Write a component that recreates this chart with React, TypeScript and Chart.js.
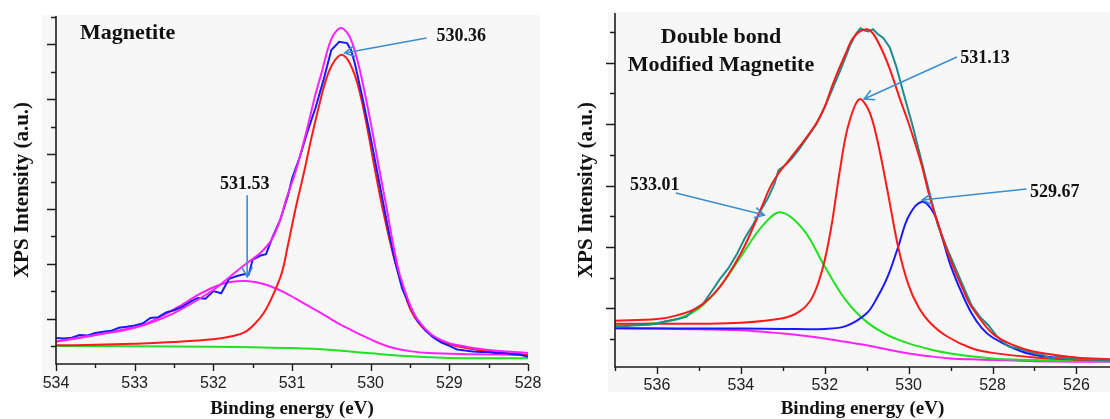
import React, { useEffect, useRef } from "react";
import { Chart, registerables } from "chart.js";

Chart.register(...registerables);

// ================= LEFT PANEL : Magnetite =================
const L_GREEN_E = [534, 533, 532, 531.5, 531, 530.5, 530, 529.5, 529, 528.5, 528];
const L_GREEN_I = [0, -0.01, -0.03, -0.05, -0.08, -0.15, -0.27, -0.38, -0.44, -0.45, -0.45];

const L_RED_E = [534, 533.5, 533, 532.5, 532, 531.75, 531.6, 531.48, 531.36, 531.25, 531.13, 531.05, 530.95, 530.85, 530.76, 530.67, 530.58, 530.49, 530.38, 530.29, 530.17, 530.06, 529.95, 529.84, 529.72, 529.6, 529.49, 529.38, 529.26, 529.15, 529.04, 528.8, 528.5, 528];
const L_RED_I = [0.02, 0.04, 0.08, 0.14, 0.24, 0.36, 0.5, 0.78, 1.2, 1.8, 2.66, 3.7, 5.07, 6.3, 7.5, 8.6, 9.6, 10.26, 10.62, 10.44, 9.6, 8.2, 6.5, 4.9, 3.4, 2.2, 1.3, 0.8, 0.47, 0.25, 0.1, -0.07, -0.2, -0.33];

const L_COMP_E = [534, 533.5, 532.9, 532.44, 532.2, 531.99, 531.8, 531.58, 531.35, 531.08, 530.85, 530.63, 530.4, 530.17, 529.95, 529.72, 529.5, 529.26, 528.8, 528];
const L_COMP_I = [0.15, 0.4, 0.77, 1.43, 1.85, 2.15, 2.32, 2.37, 2.25, 1.93, 1.55, 1.2, 0.8, 0.47, 0.17, -0.07, -0.19, -0.26, -0.3, -0.33];

const L_ENV_E = [534, 533.5, 533, 532.5, 532, 531.8, 531.6, 531.4, 531.26, 531.15, 531.08, 530.95, 530.81, 530.7, 530.63, 530.5, 530.38, 530.27, 530.17, 530.08, 529.99, 529.9, 529.8, 529.7, 529.63, 529.5, 529.4, 529.22, 529, 528.8, 528.5, 528];
const L_ENV_I = [0.17, 0.4, 0.66, 1.2, 2.04, 2.5, 2.96, 3.4, 3.87, 4.6, 5.3, 6.4, 7.9, 9.2, 9.9, 11.2, 11.6, 11.3, 10.44, 9.3, 8.0, 6.6, 5.07, 3.5, 2.6, 1.5, 0.95, 0.4, 0.1, -0.02, -0.15, -0.26];

const L_RAW_E = [534, 533.9, 533.8, 533.7, 533.6, 533.5, 533.4, 533.3, 533.2, 533.1, 533.0, 532.9, 532.8, 532.7, 532.6, 532.5, 532.4, 532.3, 532.2, 532.1, 532.0, 531.9, 531.8, 531.7, 531.6, 531.55, 531.5, 531.4, 531.33, 531.25, 531.15, 531.05, 531.0, 530.9, 530.8, 530.7, 530.6, 530.5, 530.4, 530.3, 530.25, 530.2, 530.1, 530.0, 529.9, 529.8, 529.7, 529.6, 529.5, 529.4, 529.3, 529.2, 529.1, 529.0, 528.9, 528.8, 528.7, 528.6, 528.5, 528.4, 528.3, 528.2, 528.1, 528.0];
const L_RAW_I = [0.29, 0.27, 0.3, 0.4, 0.38, 0.47, 0.52, 0.55, 0.66, 0.7, 0.75, 0.82, 1.02, 1.05, 1.22, 1.3, 1.42, 1.6, 1.75, 1.72, 2.0, 1.92, 2.45, 2.55, 2.62, 2.6, 3.15, 3.3, 3.35, 3.95, 4.6, 5.5, 6.1, 6.9, 7.85, 8.7, 9.7, 10.8, 11.1, 11.05, 10.8, 10.3, 9.0, 7.6, 6.1, 4.6, 3.2, 2.1, 1.45, 0.9, 0.55, 0.3, 0.12, 0.0, -0.13, -0.17, -0.2, -0.22, -0.22, -0.27, -0.25, -0.3, -0.32, -0.4];

const L_X_MAJOR = [534, 533, 532, 531, 530, 529, 528];
const L_X_MINOR = [533.5, 532.5, 531.5, 530.5, 529.5, 528.5];
const L_Y_MAJOR = [1, 3, 5, 7, 9, 11];
const L_Y_MINOR = [0, 2, 4, 6, 8, 10, 12];

const L_ARROWS = [
  { label: "530.36", tx: 528.85, ty: 11.31, x1: 529.29, y1: 11.24, x2: 530.33, y2: 10.69 },
  { label: "531.53", tx: 531.6, ty: 5.88, x1: 531.57, y1: 5.5, x2: 531.57, y2: 2.52 },
];

// ================= RIGHT PANEL : Double bond Modified Magnetite =================
const R_BASE_E = [537, 536, 535, 534, 533, 532.5, 532, 531.5, 531, 530.5, 530, 529.5, 529, 528.5, 528, 527, 526, 525.2];
const R_BASE_I = [0.35, 0.34, 0.32, 0.29, 0.18, 0.11, 0.02, -0.09, -0.2, -0.34, -0.47, -0.56, -0.63, -0.66, -0.68, -0.72, -0.74, -0.74];

const R_GREEN_E = [537, 536.5, 536, 535.5, 535, 534.5, 534, 533.5, 533.06, 532.5, 532, 531.5, 531, 530.5, 530, 529.5, 529, 528, 527, 526, 525.2];
const R_GREEN_I = [0.45, 0.48, 0.52, 0.66, 1.0, 1.7, 2.68, 3.66, 4.13, 3.55, 2.36, 1.27, 0.56, 0.13, -0.14, -0.33, -0.47, -0.63, -0.68, -0.71, -0.72];

const R_RED_E = [537, 536, 535, 534, 533, 532.6, 532.3, 532.05, 531.85, 531.65, 531.45, 531.18, 530.95, 530.75, 530.5, 530.25, 530.0, 529.75, 529.5, 529.1, 528.5, 528, 527, 526, 525.2];
const R_RED_I = [0.5, 0.5, 0.5, 0.53, 0.68, 0.9, 1.35, 2.3, 3.6, 5.4, 6.9, 7.81, 7.45, 6.5, 4.8, 3.0, 1.75, 1.0, 0.55, 0.1, -0.3, -0.45, -0.6, -0.67, -0.7];

const R_BLUE_E = [537, 534, 533, 532, 531.5, 531, 530.75, 530.5, 530.25, 530, 529.68, 529.4, 529.2, 529, 528.75, 528.5, 528.25, 528, 527.5, 527, 526, 525.2];
const R_BLUE_I = [0.35, 0.34, 0.33, 0.33, 0.42, 0.84, 1.35, 2.03, 3.0, 4.0, 4.47, 4.1, 3.3, 2.4, 1.55, 0.84, 0.35, 0.05, -0.3, -0.52, -0.66, -0.68];

const R_ENV_E = [537, 536, 535.5, 535, 534.5, 534, 533.7, 533.5, 533.3, 533.1, 532.9, 532.7, 532.5, 532.2, 532, 531.8, 531.5, 531.3, 531.0, 530.8, 530.5, 530.2, 530, 529.7, 529.5, 529.2, 529, 528.7, 528.5, 528, 527.5, 527, 526, 525.2];
const R_ENV_I = [0.6, 0.65, 0.78, 1.05, 1.7, 2.79, 3.66, 4.31, 4.95, 5.4, 5.75, 6.1, 6.45, 7.03, 7.57, 8.33, 9.3, 9.85, 10.09, 9.85, 8.98, 7.79, 7.03, 5.72, 4.64, 3.33, 2.57, 1.6, 1.05, 0.18, -0.2, -0.41, -0.6, -0.66];

const R_RAW_E = [537, 536.8, 536.5, 536.2, 536, 535.8, 535.5, 535.3, 535.1, 534.9, 534.7, 534.5, 534.3, 534.1, 533.9, 533.7, 533.5, 533.35, 533.2, 533.1, 533.0, 532.9, 532.8, 532.6, 532.4, 532.2, 532.0, 531.8, 531.6, 531.4, 531.25, 531.15, 531.05, 530.95, 530.85, 530.75, 530.6, 530.45, 530.3, 530.1, 529.9, 529.7, 529.5, 529.3, 529.1, 528.9, 528.7, 528.5, 528.3, 528.1, 527.9, 527.75, 527.6, 527.4, 527.2, 527.0, 526.8, 526.6, 526.45, 526.3, 526.0, 525.6, 525.2];
const R_RAW_I = [0.4, 0.42, 0.45, 0.47, 0.5, 0.58, 0.65, 0.72, 0.98, 1.15, 1.55, 1.95, 2.3, 2.75, 3.3, 3.75, 4.25, 4.6, 5.05, 5.5, 5.6, 5.72, 5.85, 6.2, 6.6, 7.0, 7.55, 8.2, 8.85, 9.55, 9.95, 10.12, 10.05, 10.02, 10.09, 9.95, 9.8, 9.5, 8.9, 7.9, 6.92, 5.83, 4.74, 3.7, 3.0, 2.36, 1.72, 1.1, 0.72, 0.45, 0.1, -0.1, -0.25, -0.3, -0.38, -0.47, -0.52, -0.63, -0.58, -0.62, -0.66, -0.67, -0.68];

const R_X_MAJOR = [536, 534, 532, 530, 528, 526];
const R_X_MINOR = [537, 535, 533, 531, 529, 527];
const R_Y_MAJOR = [1, 3, 5, 7, 9];
const R_Y_MINOR = [0, 2, 4, 6, 8, 10];

const R_ARROWS = [
  { label: "531.13", tx: 528.18, ty: 9.15, x1: 528.85, y1: 9.19, x2: 531.06, y2: 7.82 },
  { label: "533.01", tx: 536.05, ty: 5.02, x1: 535.55, y1: 4.76, x2: 533.44, y2: 4.04 },
  { label: "529.67", tx: 526.52, ty: 4.79, x1: 527.19, y1: 4.89, x2: 529.68, y2: 4.53 },
];

// ================= styling =================
const SERIF = '"Liberation Serif", "Times New Roman", Times, serif';
const SANS = '"Liberation Sans", Arial, Helvetica, sans-serif';
const C_BLUE = "#1a1aff";
const C_RED = "#ff1a1a";
const C_MAG = "#ff22ff";
const C_GREEN = "#22e022";
const C_TEAL = "#1e8c8c";
const C_ARROW = "#3b8ed0";

type Arrow = { label: string; tx: number; ty: number; x1: number; y1: number; x2: number; y2: number };
type TitleLine = { text: string; dx: number; dy: number; align: CanvasTextAlign };

const pts = (e: number[], v: number[]) => e.map((x, i) => ({ x, y: v[i] }));

function line(data: { x: number; y: number }[], color: string, smooth: boolean) {
  return {
    data,
    borderColor: color,
    backgroundColor: color,
    borderWidth: 2,
    pointRadius: 0,
    fill: false,
    tension: smooth ? 0.35 : 0,
  };
}

function decorPlugin(o: {
  bg: [number, number, number, number];
  xMajor: number[];
  xMinor: number[];
  yMajor: number[];
  yMinor: number[];
  titles: TitleLine[];
  arrows: Arrow[];
}) {
  return {
    id: "decor",
    beforeDraw(chart: any) {
      const { ctx, chartArea: a } = chart;
      ctx.save();
      ctx.fillStyle = "#f7f7f7";
      const l = a.left + o.bg[0];
      const t = a.top + o.bg[1];
      ctx.fillRect(l, t, a.right + o.bg[2] - l, a.bottom + o.bg[3] - t);
      ctx.restore();
    },
    afterDraw(chart: any) {
      const { ctx, chartArea: a, scales } = chart;
      const xs = scales.x;
      const ys = scales.y;
      ctx.save();
      ctx.strokeStyle = "#1c1c1c";
      ctx.lineWidth = 1.6;
      ctx.beginPath();
      ctx.moveTo(a.left, a.top);
      ctx.lineTo(a.left, a.bottom);
      ctx.lineTo(a.right, a.bottom);
      ctx.stroke();
      ctx.lineWidth = 1.4;
      ctx.beginPath();
      const xt = (vals: number[], len: number) =>
        vals.forEach((v) => {
          const p = Math.round(xs.getPixelForValue(v)) + 0.5;
          ctx.moveTo(p, a.bottom);
          ctx.lineTo(p, a.bottom + len);
        });
      const yt = (vals: number[], len: number) =>
        vals.forEach((v) => {
          const p = Math.round(ys.getPixelForValue(v)) + 0.5;
          ctx.moveTo(a.left, p);
          ctx.lineTo(a.left - len, p);
        });
      xt(o.xMajor, 7);
      xt(o.xMinor, 4);
      yt(o.yMajor, 9);
      yt(o.yMinor, 5);
      ctx.stroke();

      // panel titles
      ctx.fillStyle = "#111";
      ctx.font = `bold 22px ${SERIF}`;
      ctx.textBaseline = "alphabetic";
      o.titles.forEach((t) => {
        ctx.textAlign = t.align;
        ctx.fillText(t.text, a.left + t.dx, a.top + t.dy);
      });

      // annotations
      o.arrows.forEach((ar) => {
        const x1 = xs.getPixelForValue(ar.x1);
        const y1 = ys.getPixelForValue(ar.y1);
        const x2 = xs.getPixelForValue(ar.x2);
        const y2 = ys.getPixelForValue(ar.y2);
        ctx.strokeStyle = C_ARROW;
        ctx.lineWidth = 1.6;
        ctx.beginPath();
        ctx.moveTo(x1, y1);
        ctx.lineTo(x2, y2);
        const ang = Math.atan2(y1 - y2, x1 - x2);
        const hl = 11;
        const spread = 0.5;
        ctx.moveTo(x2 + hl * Math.cos(ang + spread), y2 + hl * Math.sin(ang + spread));
        ctx.lineTo(x2, y2);
        ctx.lineTo(x2 + hl * Math.cos(ang - spread), y2 + hl * Math.sin(ang - spread));
        ctx.stroke();
        ctx.fillStyle = "#111";
        ctx.font = `bold 18px ${SERIF}`;
        ctx.textAlign = "center";
        ctx.textBaseline = "middle";
        ctx.fillText(ar.label, xs.getPixelForValue(ar.tx), ys.getPixelForValue(ar.ty));
      });
      ctx.restore();
    },
  };
}

function makeConfig(p: {
  datasets: any[];
  xMin: number;
  xMax: number;
  yMin: number;
  yMax: number;
  xMajor: number[];
  xMinor: number[];
  yMajor: number[];
  yMinor: number[];
  padTop: number;
  padRight: number;
  yWidth: number;
  xHeight: number;
  yTitlePad: number;
  tickPad: number;
  bg: [number, number, number, number];
  titles: TitleLine[];
  arrows: Arrow[];
}) {
  return {
    type: "line",
    data: { datasets: p.datasets },
    options: {
      animation: false,
      responsive: false,
      maintainAspectRatio: false,
      events: [],
      layout: { padding: { top: p.padTop, right: p.padRight, left: 0, bottom: 0 } },
      plugins: { legend: { display: false }, tooltip: { enabled: false } },
      scales: {
        x: {
          type: "linear",
          reverse: true,
          min: p.xMin,
          max: p.xMax,
          grid: { display: false, drawTicks: false },
          border: { display: false },
          afterBuildTicks: (s: any) => {
            s.ticks = p.xMajor.map((v) => ({ value: v }));
          },
          afterFit: (s: any) => {
            s.height = p.xHeight;
          },
          ticks: {
            autoSkip: false,
            maxRotation: 0,
            padding: p.tickPad,
            color: "#222",
            font: { family: SANS, size: 16 },
            callback: (v: any) => String(v),
          },
          title: {
            display: true,
            text: "Binding energy (eV)",
            color: "#111",
            padding: 0,
            font: { family: SERIF, size: 19, weight: "bold", lineHeight: 1 },
          },
        },
        y: {
          type: "linear",
          min: p.yMin,
          max: p.yMax,
          grid: { display: false, drawTicks: false },
          border: { display: false },
          ticks: { display: false },
          afterFit: (s: any) => {
            s.width = p.yWidth;
          },
          title: {
            display: true,
            text: "XPS Intensity (a.u.)",
            color: "#111",
            padding: { top: p.yTitlePad, bottom: 0 },
            font: { family: SERIF, size: 21, weight: "bold", lineHeight: 1.2 },
          },
        },
      },
    },
    plugins: [
      decorPlugin({
        bg: p.bg,
        xMajor: p.xMajor,
        xMinor: p.xMinor,
        yMajor: p.yMajor,
        yMinor: p.yMinor,
        titles: p.titles,
        arrows: p.arrows,
      }),
    ],
  };
}

const leftConfig = () =>
  makeConfig({
    datasets: [
      line(pts(L_ENV_E, L_ENV_I), C_MAG, true),
      line(pts(L_RAW_E, L_RAW_I), C_BLUE, false),
      line(pts(L_RED_E, L_RED_I), C_RED, true),
      line(pts(L_COMP_E, L_COMP_I), C_MAG, true),
      line(pts(L_GREEN_E, L_GREEN_I), C_GREEN, true),
    ],
    xMin: 528,
    xMax: 534,
    yMin: -0.66,
    yMax: 12.04,
    xMajor: L_X_MAJOR,
    xMinor: L_X_MINOR,
    yMajor: L_Y_MAJOR,
    yMinor: L_Y_MINOR,
    padTop: 16,
    padRight: 27,
    yWidth: 56,
    xHeight: 55,
    yTitlePad: 9.5,
    tickPad: 10,
    bg: [-14, -1, 12, 28],
    titles: [{ text: "Magnetite", dx: 24, dy: 23, align: "left" }],
    arrows: L_ARROWS,
  });

const rightConfig = () =>
  makeConfig({
    datasets: [
      line(pts(R_ENV_E, R_ENV_I), C_RED, true),
      line(pts(R_RAW_E, R_RAW_I), C_TEAL, false),
      line(pts(R_RED_E, R_RED_I), C_RED, true),
      line(pts(R_BLUE_E, R_BLUE_I), C_BLUE, true),
      line(pts(R_GREEN_E, R_GREEN_I), C_GREEN, true),
      line(pts(R_BASE_E, R_BASE_I), C_MAG, true),
    ],
    xMin: 525.2,
    xMax: 537,
    yMin: -0.91,
    yMax: 10.62,
    xMajor: R_X_MAJOR,
    xMinor: R_X_MINOR,
    yMajor: R_Y_MAJOR,
    yMinor: R_Y_MINOR,
    padTop: 13,
    padRight: 0,
    yWidth: 60,
    xHeight: 52,
    yTitlePad: 18.5,
    tickPad: 9,
    bg: [-7, -1, 0, 25],
    titles: [
      { text: "Double bond", dx: 106, dy: 30, align: "center" },
      { text: "Modified Magnetite", dx: 106, dy: 58, align: "center" },
    ],
    arrows: R_ARROWS,
  });

function Panel({ make, left }: { make: () => any; left: number }) {
  const ref = useRef<HTMLCanvasElement>(null);
  useEffect(() => {
    const chart = new Chart(ref.current as HTMLCanvasElement, make());
    return () => chart.destroy();
  }, [make]);
  return (
    <canvas
      ref={ref}
      width={555}
      height={419}
      style={{ position: "absolute", left, top: 0, width: 555, height: 419 }}
    />
  );
}

export default function App() {
  return (
    <div style={{ position: "absolute", left: 0, top: 0, width: 1110, height: 419, background: "#fff", overflow: "hidden" }}>
      <Panel make={leftConfig} left={0} />
      <Panel make={rightConfig} left={555} />
    </div>
  );
}
